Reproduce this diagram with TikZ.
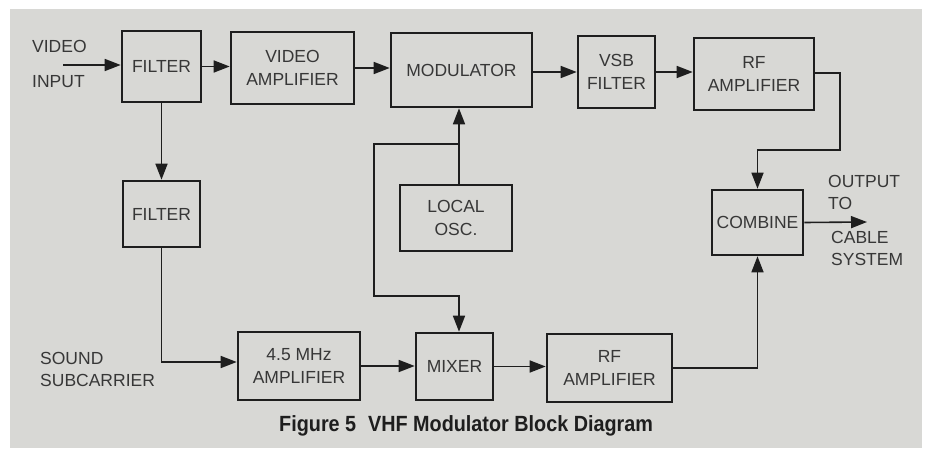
\documentclass[tikz,border=0pt]{standalone}
\usepackage{fontspec}
\setmainfont{Liberation Sans}
\usetikzlibrary{arrows.meta}
\definecolor{panel}{RGB}{216,216,213}
\definecolor{ink}{RGB}{30,30,30}
\definecolor{txt}{RGB}{55,55,55}
\tikzset{
  blk/.style={draw=ink, line width=2.6pt, inner sep=0pt, align=center, text=txt,
    font=\fontsize{17.5}{23}\selectfont},
  lbl/.style={inner sep=0pt, anchor=north west, align=left, text=txt,
    font=\fontsize{17.5}{22}\selectfont},
  arr/.style={draw=ink, line width=1.6pt, -{Triangle[length=16pt,width=12pt]}},
  wire/.style={draw=ink, line width=1.6pt}
}
\begin{document}
\begin{tikzpicture}[x=1pt,y=-1pt]
\useasboundingbox (0,0) rectangle (931,449);
\fill[panel] (10,9) rectangle (922,448);
% blocks
\node[blk, minimum width=79pt, minimum height=71pt] (f1) at (161.5,66.5) {FILTER};
\node[blk, minimum width=123pt, minimum height=72pt] (va) at (292.5,68) {VIDEO\\AMPLIFIER};
\node[blk, minimum width=141pt, minimum height=74pt] (mod) at (461.5,70) {MODULATOR};
\node[blk, minimum width=77pt, minimum height=72pt] (vsb) at (616.5,72) {VSB\\FILTER};
\node[blk, minimum width=120pt, minimum height=72pt] (rf1) at (754,74) {RF\\AMPLIFIER};
\node[blk, minimum width=77pt, minimum height=66pt] (f2) at (161.5,214) {FILTER};
\node[blk, minimum width=112pt, minimum height=66pt] (osc) at (456,218) {LOCAL\\OSC.};
\node[blk, minimum width=91pt, minimum height=65pt] (comb) at (757.5,222.5) {COMBINE};
\node[blk, minimum width=122pt, minimum height=68pt] (amp) at (299,366) {4.5 MHz\\AMPLIFIER};
\node[blk, minimum width=77pt, minimum height=67pt] (mix) at (454.5,366.5) {MIXER};
\node[blk, minimum width=125pt, minimum height=68pt] (rf2) at (609.5,368) {RF\\AMPLIFIER};
% labels
\node[lbl] (vin) at (32,40) {VIDEO\\[13pt]INPUT};
\node[lbl] (snd) at (40,352) {SOUND\\SUBCARRIER};
\node[lbl] (outa) at (828,175) {OUTPUT\\TO};
\node[lbl] (outb) at (831,231) {CABLE\\SYSTEM};
\node[inner sep=0pt, anchor=base west, text=ink, font=\fontsize{22}{24}\selectfont\bfseries] (cap) at (279,431)
  {\scalebox{0.9}[1]{Figure 5\hspace{0.6em}VHF Modulator Block Diagram}};
% coordinates
\coordinate (in) at (63,65);
\coordinate (tap) at (459,144);
\coordinate (lt) at (374,296);
\coordinate (rfturn) at (840,150);
\coordinate (out) at (867,222);
% connectors
\draw[arr] (in) -- (in -| f1.west);
\draw[arr] (f1.east) -- (f1.east -| va.west);
\draw[arr] (va.east) -- (va.east -| mod.west);
\draw[arr] (mod.east |- 0,72) -- (vsb.west |- 0,72);
\draw[arr] (vsb.east |- 0,72) -- (rf1.west |- 0,72);
\draw[arr] (f1.south) -- (f2.north);
\draw[arr] (osc.north -| tap) -- (mod.south -| tap);
\draw[arr] (tap) -| (lt) -| (mix.north -| tap);
\draw[arr] (f2.south) |- (amp.west |- 0,362);
\draw[arr] (amp.east) -- (amp.east -| mix.west);
\draw[arr] (mix.east) -- (mix.east -| rf2.west);
\draw[arr] (rf2.east) -| (comb.south);
\draw[arr] (rf1.east |- 0,73) -| (rfturn) -| (comb.north);
\draw[arr] (comb.east) -- (out);
\end{tikzpicture}
\end{document}
